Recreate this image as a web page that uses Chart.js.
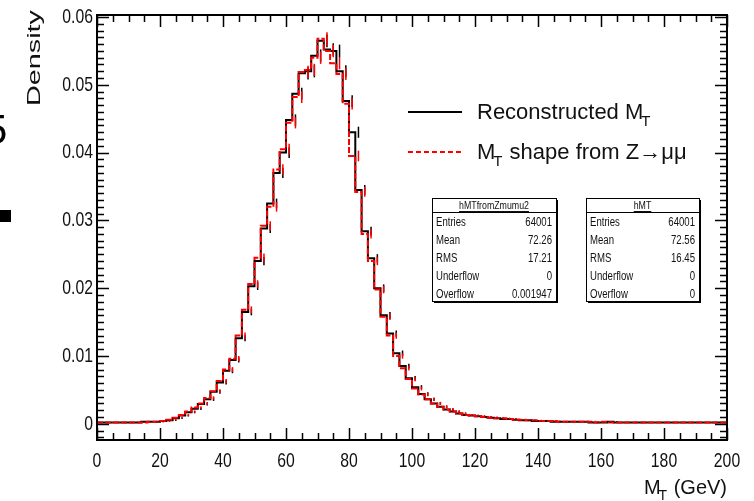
<!DOCTYPE html>
<html>
<head>
<meta charset="utf-8">
<script src="https://cdn.jsdelivr.net/npm/chart.js@4.4.1/dist/chart.umd.min.js"></script>
<style>
  html, body { margin: 0; padding: 0; background: #fff; }
</style>
</head>
<body>
<canvas id="mtChart" width="754" height="501"></canvas>
<script>
// histogram binning: 100 bins of 2 GeV from 0 to 200
const BIN_WIDTH = 2;
const ENTRIES = 64001;
const binLow = Array.from({ length: 100 }, (_, i) => i * BIN_WIDTH);

// Reconstructed M_T (black), density per bin
const recoDensity = [
  0.0002, 0.0002, 0.0002, 0.0002, 0.0002, 0.0002, 0.0002, 0.0002, 0.0003, 0.0003,
  0.0003, 0.0004, 0.0005, 0.0008, 0.0012, 0.0017, 0.0022, 0.0029, 0.0036, 0.0047,
  0.0061, 0.0078, 0.0094, 0.0126, 0.0165, 0.0203, 0.0240, 0.0288, 0.0325, 0.0370,
  0.0400, 0.0448, 0.0487, 0.0517, 0.0520, 0.0543, 0.0565, 0.0552, 0.0550, 0.0520,
  0.0476, 0.0430, 0.0345, 0.0284, 0.0244, 0.0200, 0.0160, 0.0133, 0.0104, 0.0085,
  0.0067, 0.0054, 0.0044, 0.0036, 0.0030, 0.0025, 0.0021, 0.0018, 0.0015, 0.0013,
  0.0012, 0.0011, 0.0010, 0.0009, 0.0008, 0.0007, 0.0007, 0.0006, 0.0005, 0.0005,
  0.0004, 0.0004, 0.0004, 0.0003, 0.0003, 0.0003, 0.0003, 0.0003, 0.0003, 0.0002,
  0.0002, 0.0002, 0.0003, 0.0002, 0.0002, 0.0002, 0.0002, 0.0002, 0.0002, 0.0002,
  0.0002, 0.0002, 0.0002, 0.0002, 0.0002, 0.0002, 0.0002, 0.0002, 0.0002, 0.0002
];

// M_T shape from Z->mumu (red dashed)
const zmumuDensity = [
  0.0002, 0.0002, 0.0002, 0.0002, 0.0002, 0.0002, 0.0002, 0.0002, 0.0002, 0.0003,
  0.0003, 0.0004, 0.0006, 0.0009, 0.0013, 0.0018, 0.0024, 0.0030, 0.0038, 0.0048,
  0.0063, 0.0080, 0.0096, 0.0130, 0.0168, 0.0206, 0.0245, 0.0292, 0.0320, 0.0375,
  0.0405, 0.0444, 0.0482, 0.0519, 0.0522, 0.0540, 0.0568, 0.0550, 0.0532, 0.0516,
  0.0472, 0.0395, 0.0342, 0.0280, 0.0240, 0.0198, 0.0158, 0.0130, 0.0100, 0.0082,
  0.0066, 0.0052, 0.0043, 0.0036, 0.0030, 0.0025, 0.0021, 0.0018, 0.0015, 0.0013,
  0.0012, 0.0011, 0.0010, 0.0009, 0.0008, 0.0008, 0.0007, 0.0006, 0.0006, 0.0005,
  0.0005, 0.0004, 0.0004, 0.0004, 0.0003, 0.0003, 0.0003, 0.0003, 0.0003, 0.0003,
  0.0002, 0.0003, 0.0002, 0.0002, 0.0002, 0.0002, 0.0002, 0.0002, 0.0002, 0.0002,
  0.0002, 0.0002, 0.0002, 0.0002, 0.0002, 0.0002, 0.0002, 0.0002, 0.0002, 0.0002
];

const xTickValues = [0, 20, 40, 60, 80, 100, 120, 140, 160, 180, 200];
const xTickLabels = ['0', '20', '40', '60', '80', '100', '120', '140', '160', '180', '200'];
const yTickValues = [0, 0.01, 0.02, 0.03, 0.04, 0.05, 0.06];
const yTickLabels = ['0', '0.01', '0.02', '0.03', '0.04', '0.05', '0.06'];

const statsZmumu = {
  name: 'hMTfromZmumu2',
  rows: [['Entries', '64001'], ['Mean', '72.26'], ['RMS', '17.21'], ['Underflow', '0'], ['Overflow', '0.001947']]
};
const statsReco = {
  name: 'hMT',
  rows: [['Entries', '64001'], ['Mean', '72.56'], ['RMS', '16.45'], ['Underflow', '0'], ['Overflow', '0']]
};

const SANS = "'Liberation Sans', Arial, sans-serif";
const SQUEEZE = 0.75; // the picture's labels are narrow

function histPoints(vals) {
  const pts = vals.map((v, i) => ({ x: binLow[i], y: v }));
  pts.push({ x: binLow[vals.length - 1] + BIN_WIDTH, y: vals[vals.length - 1] });
  return pts;
}

// narrow text drawn at (x, y)
function narrowText(ctx, txt, x, y, size, align, baseline, sx) {
  ctx.save();
  ctx.translate(x, y);
  ctx.scale(sx || SQUEEZE, 1);
  ctx.font = size + 'px ' + SANS;
  ctx.textAlign = align;
  ctx.textBaseline = baseline;
  ctx.fillText(txt, 0, 0);
  ctx.restore();
}

// text with a subscript "T" after the given prefix
function drawSubT(ctx, before, after, x, y, size) {
  ctx.font = size + 'px ' + SANS;
  ctx.fillText(before, x, y);
  let cx = x + ctx.measureText(before).width - 2;
  ctx.font = Math.round(size * 0.7) + 'px ' + SANS;
  ctx.fillText('T', cx, y + size * 0.3);
  cx += ctx.measureText('T').width + 1;
  ctx.font = size + 'px ' + SANS;
  ctx.fillText(after, cx, y);
}

function drawStatBox(ctx, bx, by, bw, bh, stats) {
  ctx.save();
  ctx.fillStyle = '#000';
  ctx.fillRect(bx + 2, by + 2, bw, bh);
  ctx.fillStyle = '#fff';
  ctx.fillRect(bx, by, bw, bh);
  ctx.strokeStyle = '#000';
  ctx.lineWidth = 1;
  ctx.strokeRect(bx + 0.5, by + 0.5, bw, bh);
  ctx.beginPath();
  ctx.moveTo(bx, by + 14.5);
  ctx.lineTo(bx + bw, by + 14.5);
  ctx.stroke();
  ctx.fillStyle = '#111';
  ctx.font = '11px ' + SANS;
  narrowText(ctx, stats.name, bx + bw / 2, by + 8, 11, 'center', 'middle', 0.8);
  ctx.font = '11px ' + SANS;
  const tw = ctx.measureText(stats.name).width * 0.8;
  ctx.fillRect(bx + bw / 2 - tw / 2, by + 13, tw, 1);
  stats.rows.forEach((r, i) => {
    const ry = by + 25 + i * 18;
    narrowText(ctx, r[0], bx + 4, ry, 12, 'left', 'middle', 0.8);
    narrowText(ctx, r[1], bx + bw - 4, ry, 12, 'right', 'middle', 0.8);
  });
  ctx.restore();
}

const rootDecor = {
  id: 'rootDecor',
  afterDatasetsDraw(chart) {
    const { ctx, scales: { x, y } } = chart;
    const sets = [recoDensity, zmumuDensity];
    const cols = ['#000', '#ff0000'];
    sets.forEach((vals, k) => {
      ctx.save();
      ctx.strokeStyle = cols[k];
      ctx.lineWidth = 1.5;
      vals.forEach((v, i) => {
        const err = Math.max(Math.sqrt(v * ENTRIES) / ENTRIES, 0.00004);
        const px = x.getPixelForValue(binLow[i] + BIN_WIDTH / 2);
        ctx.beginPath();
        ctx.moveTo(px, y.getPixelForValue(v + err));
        ctx.lineTo(px, y.getPixelForValue(v - err));
        ctx.stroke();
      });
      ctx.restore();
    });
  },
  afterDraw(chart) {
    const { ctx, chartArea: a, scales: { x, y } } = chart;
    ctx.save();
    ctx.strokeStyle = '#000';
    ctx.lineWidth = 2;
    ctx.strokeRect(a.left, a.top, a.right - a.left, a.bottom - a.top);

    // inside ticks on all four sides
    ctx.lineWidth = 1.5;
    ctx.beginPath();
    for (let v = 0; v <= 200; v += 5) {
      const px = Math.round(x.getPixelForValue(v)) + 0.5;
      const len = v % 20 === 0 ? 12 : 7;
      ctx.moveTo(px, a.bottom); ctx.lineTo(px, a.bottom - len);
      ctx.moveTo(px, a.top); ctx.lineTo(px, a.top + len);
    }
    for (let k = -2; k <= 60; k++) {
      const py = Math.round(y.getPixelForValue(k / 1000)) + 0.5;
      const len = k % 10 === 0 ? 12 : 7;
      ctx.moveTo(a.left, py); ctx.lineTo(a.left + len, py);
      ctx.moveTo(a.right, py); ctx.lineTo(a.right - len, py);
    }
    ctx.stroke();

    // tick labels, placed by the chart's scales
    ctx.fillStyle = '#111';
    xTickValues.forEach((v, i) => {
      narrowText(ctx, xTickLabels[i], x.getPixelForValue(v), a.bottom + 21, 21, 'center', 'middle');
    });
    yTickValues.forEach((v, i) => {
      narrowText(ctx, yTickLabels[i], a.left - 4, y.getPixelForValue(v), 21, 'right', 'middle');
    });

    // legend
    ctx.lineWidth = 2;
    ctx.strokeStyle = '#000';
    ctx.beginPath(); ctx.moveTo(408, 112); ctx.lineTo(462, 112); ctx.stroke();
    ctx.strokeStyle = '#ff0000';
    ctx.setLineDash([5, 3]);
    ctx.beginPath(); ctx.moveTo(408, 152); ctx.lineTo(462, 152); ctx.stroke();
    ctx.setLineDash([]);
    ctx.fillStyle = '#111';
    ctx.textBaseline = 'alphabetic';
    ctx.textAlign = 'left';
    drawSubT(ctx, 'Reconstructed M', '', 477, 119, 22);
    drawSubT(ctx, 'M', ' shape from Z\u2192\u03bc\u03bc', 477, 159, 22);

    // stat boxes
    drawStatBox(ctx, 432, 198, 124, 103, statsZmumu);
    drawStatBox(ctx, 586, 198, 113, 103, statsReco);

    // axis titles
    ctx.fillStyle = '#111';
    ctx.textAlign = 'left';
    ctx.textBaseline = 'alphabetic';
    ctx.font = '20px ' + SANS;
    const w1 = ctx.measureText('M').width;
    const w3 = ctx.measureText(' (GeV)').width;
    ctx.font = '14px ' + SANS;
    const w2 = ctx.measureText('T').width;
    drawSubT(ctx, 'M', ' (GeV)', a.right - (w1 + w2 + w3 - 1), 494, 20);

    ctx.save();
    ctx.translate(40, 10);
    ctx.rotate(-Math.PI / 2);
    ctx.scale(1.6, 1);
    ctx.textAlign = 'right';
    ctx.font = '18px ' + SANS;
    ctx.fillText('Density', 0, 0);
    ctx.restore();

    // clipped bits at the left edge of the picture
    ctx.fillStyle = '#000';
    ctx.font = '42px ' + SANS;
    ctx.textAlign = 'left';
    ctx.fillText('5', -16, 144);
    ctx.fillRect(0, 210, 11, 12);
    ctx.restore();
  }
};

new Chart(document.getElementById('mtChart'), {
  type: 'line',
  data: {
    datasets: [
      {
        label: 'Reconstructed M_T',
        data: histPoints(recoDensity),
        borderColor: '#000',
        borderWidth: 2,
        stepped: 'after',
        pointRadius: 0,
        fill: false,
        order: 2
      },
      {
        label: 'M_T shape from Z\u2192\u03bc\u03bc',
        data: histPoints(zmumuDensity),
        borderColor: '#ff0000',
        borderWidth: 2,
        borderDash: [6, 2],
        stepped: 'after',
        pointRadius: 0,
        fill: false,
        order: 1
      }
    ]
  },
  options: {
    responsive: false,
    animation: false,
    events: [],
    layout: { padding: { left: 0, right: 27, top: 15, bottom: 0 } },
    plugins: { legend: { display: false }, tooltip: { enabled: false } },
    scales: {
      x: {
        type: 'linear',
        min: 0,
        max: 200,
        afterBuildTicks: (s) => { s.ticks = xTickValues.map(v => ({ value: v })); },
        afterFit: (s) => { s.height = 61; },
        grid: { display: false, drawTicks: false },
        border: { display: false },
        ticks: { display: false }
      },
      y: {
        type: 'linear',
        min: -0.0024,
        max: 0.0603,
        afterBuildTicks: (s) => { s.ticks = yTickValues.map(v => ({ value: v })); },
        afterFit: (s) => { s.width = 97; },
        grid: { display: false, drawTicks: false },
        border: { display: false },
        ticks: { display: false }
      }
    }
  },
  plugins: [rootDecor]
});
</script>
</body>
</html>
